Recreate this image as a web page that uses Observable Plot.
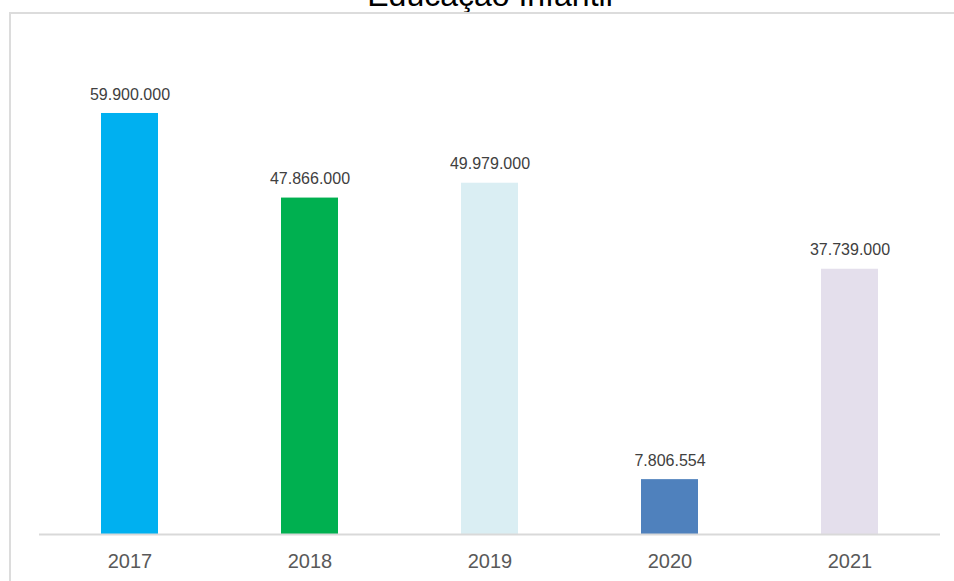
<!DOCTYPE html>
<html>
<head>
<meta charset="utf-8">
<script src="https://cdn.jsdelivr.net/npm/d3@7"></script>
<script src="https://cdn.jsdelivr.net/npm/@observablehq/plot@0.6"></script>
<style>
  html, body { margin: 0; padding: 0; background: #fff; overflow: hidden; }
  #wrap { position: relative; width: 954px; height: 581px; font-family: "Liberation Sans", Arial, sans-serif; }
  #wrap svg { position: absolute; left: 0; top: 0; }
  #frame { position: absolute; left: 9px; top: 12px; width: 1000px; height: 1000px;
           border-left: 2px solid #dcdcdc; border-top: 2px solid #dcdcdc; pointer-events: none; }
</style>
</head>
<body>
<div id="wrap"><div id="frame"></div></div>
<script>
const title = "Educação Infantil";
const years = ["2017", "2018", "2019", "2020", "2021"];
const values = [59900000, 47866000, 49979000, 7806554, 37739000];
const colors = ["#00b0f0", "#00b050", "#daeef3", "#4f81bd", "#e4dfec"];

const data = years.map((y, i) => ({year: y, value: values[i], color: colors[i]}));
const fmt = v => d3.format(",")(v).replace(/,/g, ".");

const chart = Plot.plot({
  width: 954,
  height: 581,
  marginLeft: 39,
  marginRight: 14,
  marginTop: 42,
  marginBottom: 47,
  style: {fontFamily: "'Liberation Sans', Arial, sans-serif", background: "transparent", overflow: "visible"},
  x: {domain: years, paddingInner: 0.684, paddingOuter: 0.342, label: null},
  y: {domain: [0, 70000000], axis: null},
  marks: [
    Plot.barY(data, {x: "year", y: "value", fill: "color"}),
    Plot.ruleY([0], {stroke: "#d9d9d9", strokeWidth: 2}),
    Plot.axisX({tickSize: 0, tickPadding: 19, fontSize: 20, color: "#595959", label: null}),
    Plot.text(data, {x: "year", y: "value", text: d => fmt(d.value), lineAnchor: "middle",
                     dy: -19, fontSize: 16, fill: "#404040"}),
    Plot.text([title], {text: d => d, frameAnchor: "top", lineAnchor: "middle",
                        dy: -47, fontSize: 32, fill: "#000"})
  ]
});
document.getElementById("wrap").prepend(chart);
</script>
</body>
</html>
